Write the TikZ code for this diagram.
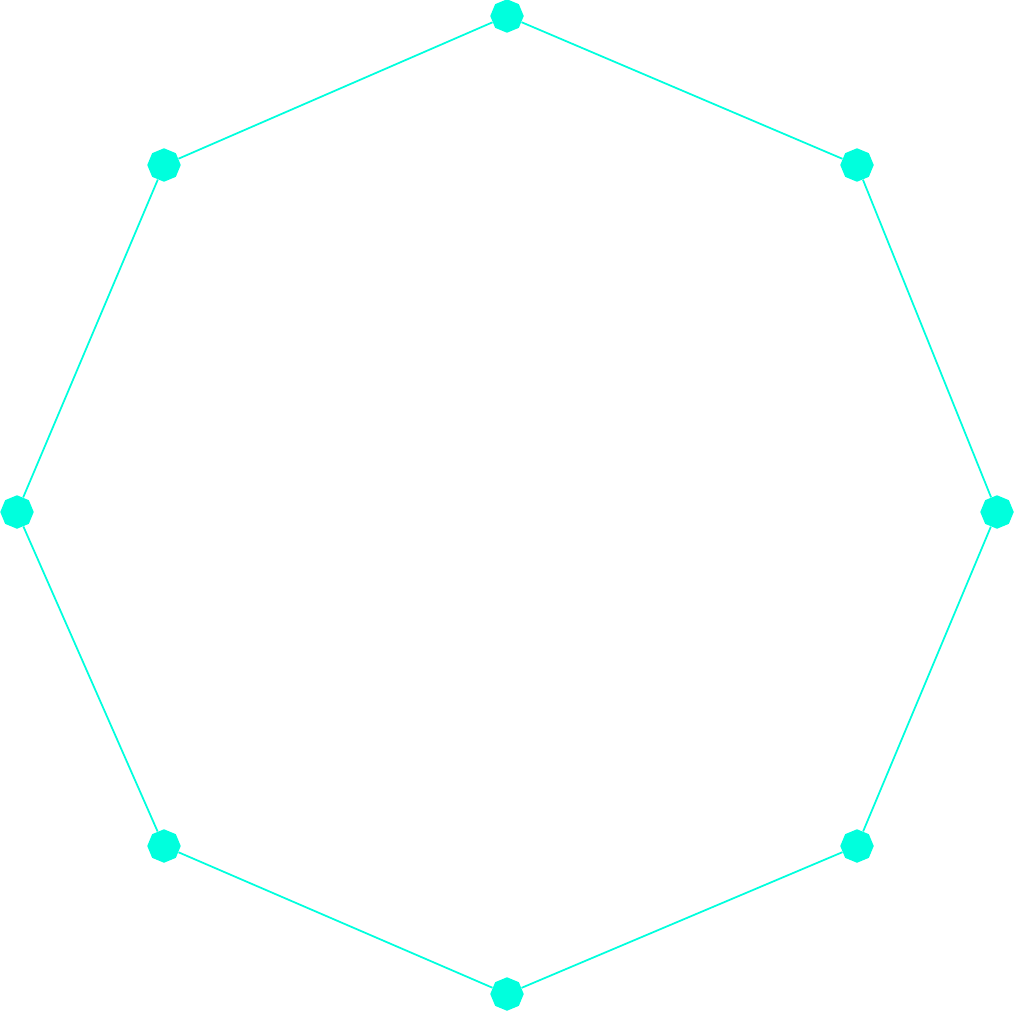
\documentclass[tikz,border=0pt]{standalone}
\usepackage{tikz}
\usetikzlibrary{shapes.geometric}
\definecolor{ringcyan}{RGB}{0,255,221}
\tikzset{
    % Ring graph
    rnode/.style={regular polygon, regular polygon sides=8, rotate=22.5, fill=ringcyan,
                 draw=none, inner sep=0pt, minimum size=0.67cm},
    redge/.style={draw=ringcyan, line width=1pt},
}

\begin{document}
\begin{tikzpicture}[x=0.02cm, y=-0.02cm]
\useasboundingbox (0,0) rectangle (1014,1011);
\foreach \i/\x/\y in {0/507/16, 1/857/165, 2/997/512, 3/857/846,
                      4/507/994, 5/164/846, 6/17/512, 7/164/165} {
    \node[rnode] (v\i) at (\x,\y) {};
}
\foreach \i [evaluate=\i as \j using {int(mod(\i+1,8))}] in {0,...,7} {
    \draw[redge] (v\i) -- (v\j);
}
\end{tikzpicture}
\end{document}
